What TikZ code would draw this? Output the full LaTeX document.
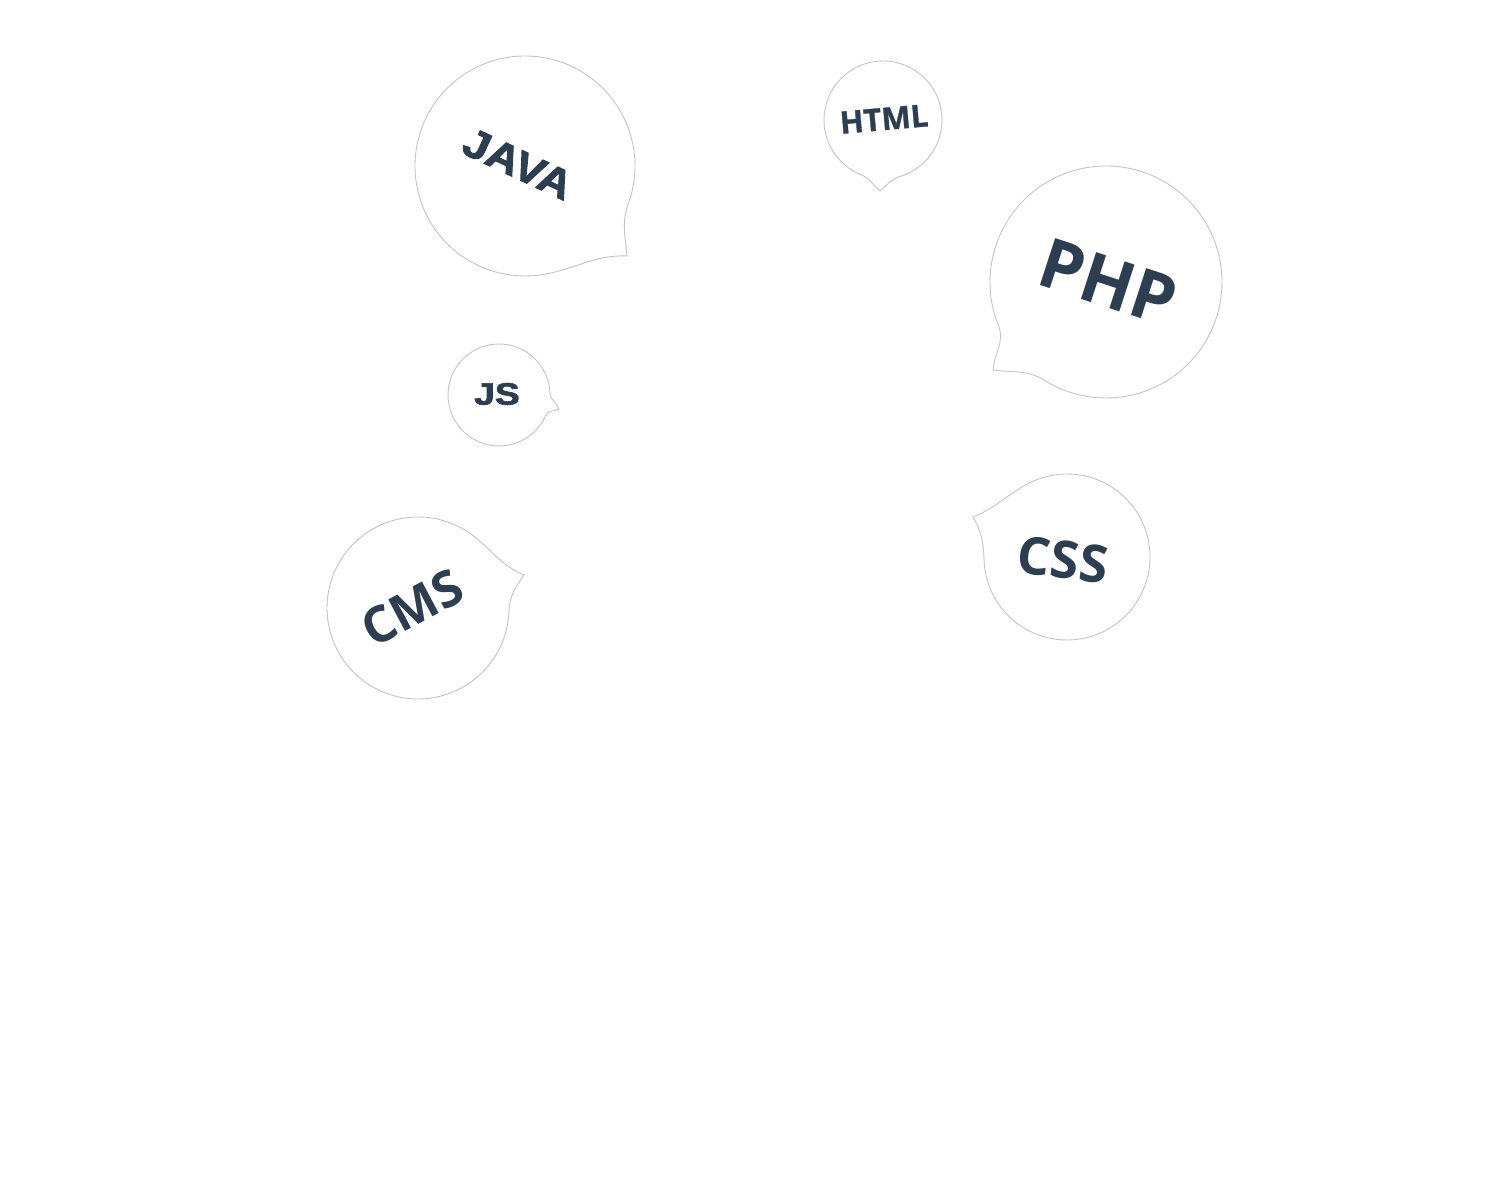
\documentclass[tikz,border=0pt]{standalone}
\usepackage{fontspec}
\usetikzlibrary{calc}
\newfontfamily\osfont{Open Sans}
\newfontfamily\osheavy{Open Sans}[BoldFeatures={FakeBold=1}]
\newfontfamily\libfont{Liberation Sans}[BoldFeatures={FakeBold=2}]
\definecolor{txtc}{HTML}{2C3E50}
\definecolor{bubc}{HTML}{C2C4C6}
\tikzset{
  bubble/.style={draw=bubc, line width=0.9pt, fill=white},
  lbl/.style={text=txtc, inner sep=0pt, anchor=center},
}
\begin{document}
\begin{tikzpicture}[x=1pt,y=1pt]
\fill[white] (0,0) rectangle (1500,1183);
\useasboundingbox (0,0) rectangle (1500,1183);

% centres (y measured upward)
\coordinate (javaC) at (525,1017);
\coordinate (javaT) at (627,927);
\coordinate (htmlC) at (883,1063);
\coordinate (htmlT) at (880,992);
\coordinate (phpC) at (1106,901);
\coordinate (phpT) at (993,813);
\coordinate (jsC) at (499,788);
\coordinate (jsT) at (559,774);
\coordinate (cmsC) at (418,575);
\coordinate (cmsT) at (524,608);
\coordinate (cssC) at (1067,626);
\coordinate (cssT) at (973,666);

% JAVA
\draw[bubble] ($(javaC)+(-20:110)$) arc[start angle=-20, end angle=280, radius=110]
  to[out=10, in=178] (javaT) to[out=95, in=250] ($(javaC)+(-20:110)$) -- cycle;
% HTML
\draw[bubble] ($(htmlC)+(-73:59)$) arc[start angle=-73, end angle=248, radius=59]
  to[out=-22, in=140] (htmlT) to[out=40, in=197] ($(htmlC)+(-73:59)$) -- cycle;
% PHP
\draw[bubble] ($(phpC)+(238:116)$) arc[start angle=238, end angle=562, radius=116]
  to[out=292, in=85] (phpT) to[out=-8, in=148] ($(phpC)+(238:116)$) -- cycle;
% JS
\draw[bubble] ($(jsC)+(2:51)$) arc[start angle=2, end angle=336, radius=51]
  to[out=66, in=207] (jsT) to[out=110, in=272] ($(jsC)+(2:51)$) -- cycle;
% CMS
\draw[bubble] ($(cmsC)+(50:91)$) arc[start angle=50, end angle=358, radius=91]
  to[out=88, in=235] (cmsT) to[out=157, in=320] ($(cmsC)+(50:91)$) -- cycle;
% CSS
\draw[bubble] ($(cssC)+(182:83)$) arc[start angle=182, end angle=478, radius=83]
  to[out=208, in=22] (cssT) to[out=300, in=92] ($(cssC)+(182:83)$) -- cycle;

\node[lbl, rotate=-25, xscale=1.12] (java) at (518,1019) {\libfont\bfseries\fontsize{41}{46}\selectfont JAVA};
\node[lbl, rotate=5] (html) at (884,1064) {\osheavy\bfseries\fontsize{31}{36}\selectfont HTML};
\node[lbl, rotate=-18] (php) at (1108,901) {\osfont\bfseries\fontsize{69}{80}\selectfont PHP};
\node[lbl, xscale=1.2] (js) at (497,789) {\libfont\bfseries\fontsize{31}{36}\selectfont JS};
\node[lbl, rotate=28] (cms) at (412,575) {\osfont\bfseries\fontsize{50}{60}\selectfont CMS};
\node[lbl, rotate=-7] (css) at (1063,623) {\osfont\bfseries\fontsize{52}{60}\selectfont CSS};
\end{tikzpicture}
\end{document}
